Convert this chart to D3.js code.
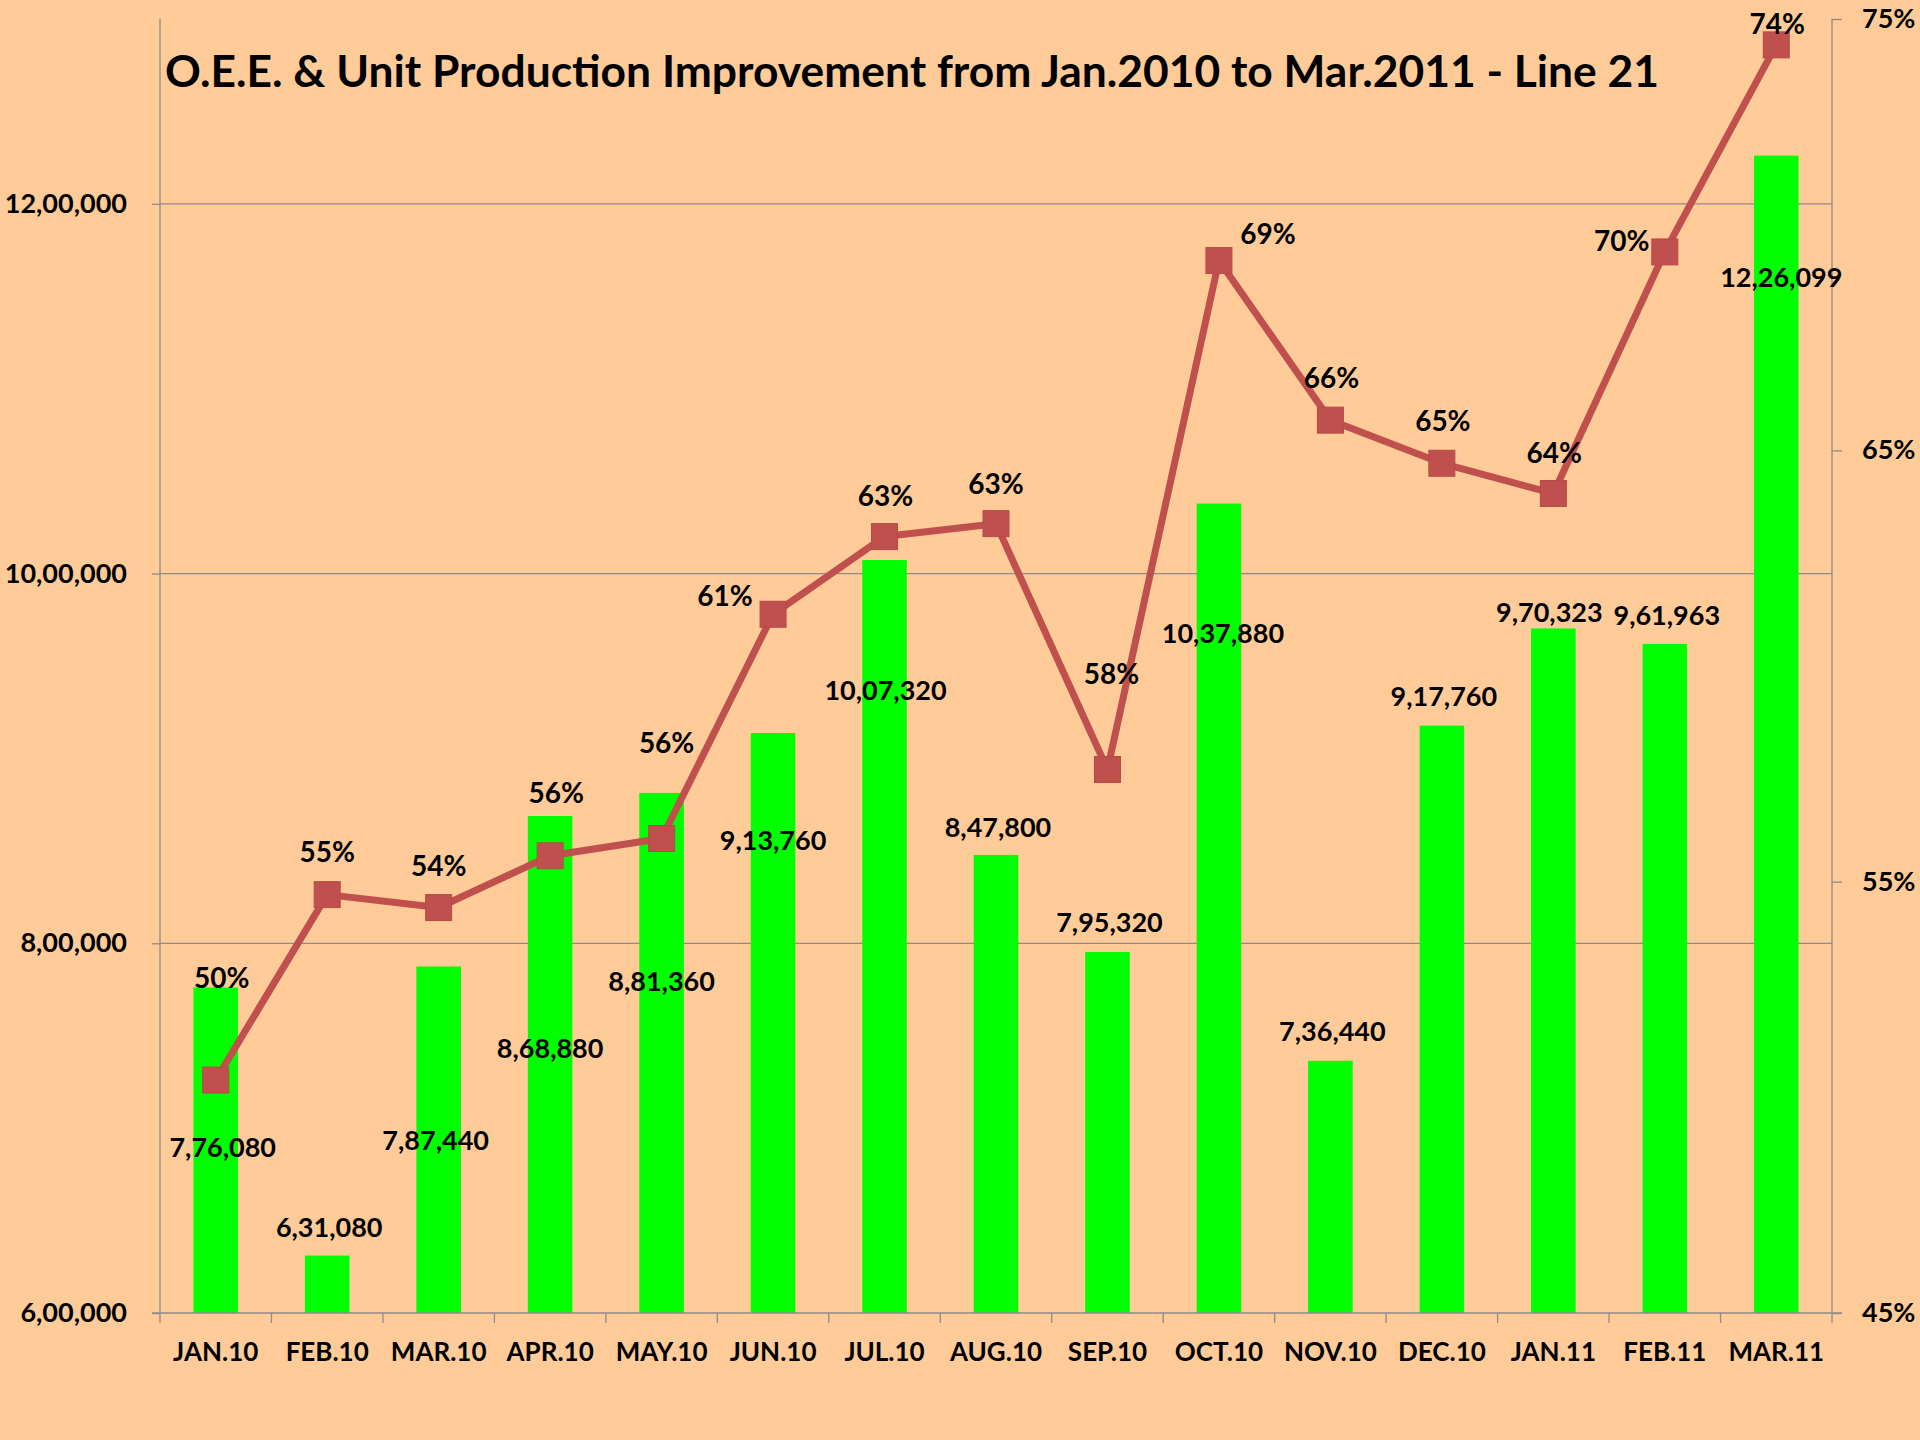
<!DOCTYPE html>
<meta charset="utf-8">
<style>
body {
  margin: 0;
  background: #FFCC99;
}
text {
  font-family: Lato, "Open Sans", sans-serif;
  font-weight: bold;
  fill: #000;
}
</style>
<body>
<script src="https://d3js.org/d3.v7.min.js"></script>
<script>

var width = 1920,
    height = 1440;

// chart data
var months = ["JAN.10", "FEB.10", "MAR.10", "APR.10", "MAY.10", "JUN.10", "JUL.10", "AUG.10",
              "SEP.10", "OCT.10", "NOV.10", "DEC.10", "JAN.11", "FEB.11", "MAR.11"];
var units = [776080, 631080, 787440, 868880, 881360, 913760, 1007320, 847800,
             795320, 1037880, 736440, 917760, 970323, 961963, 1226099];
var oee = [0.504, 0.547, 0.544, 0.556, 0.560, 0.612, 0.630, 0.633,
           0.576, 0.694, 0.657, 0.647, 0.640, 0.696, 0.744];
var unitTicks = [600000, 800000, 1000000, 1200000];
var oeeTicks = [0.45, 0.55, 0.65, 0.75];

// hand placed data labels, [dx, dy] from the bar top / marker
var unitLabelShift = [[7,160],[2,-28],[-3,174],[0,232],[0,188],[0,107],[1,130],[2,-28],
                      [2,-30],[4,130],[2,-30],[2,-29],[-4,-16],[2,-29],[5,122]];
var oeeLabelShift = [[6,-102],[0,-43],[0,-42],[6,-63],[5,-96],[-48,-18],[1,-41],[0,-40],
                     [4,-96],[49,-27],[1,-42],[1,-42],[1,-41],[-43,-11],[1,-21]];

var plotLeft = 160, plotRight = 1832, plotTop = 19, plotBottom = 1313;
var gridColor = "#8c8c8c";

// indian digit grouping, 12,26,099
function indian(n){
  var s = String(Math.round(n));
  if (s.length <= 3) return s;
  var last = s.slice(-3), rest = s.slice(0, -3);
  rest = rest.replace(/\B(?=(\d{2})+(?!\d))/g, ",");
  return rest + "," + last;
}
var pct = d3.format(".0%");

var svg = d3.select("body").append("svg")
    .attr("width", width)
    .attr("height", height)
    .style("display", "block");

svg.append("rect")
  .attr("width", width).attr("height", height)
  .attr("fill", "#FFCC99");

var x = d3.scaleBand()
    .domain(months)
    .range([plotLeft, plotRight])
    .paddingInner(0.6)
    .paddingOuter(0.3);

var y = d3.scaleLinear()
    .domain([600000, 1300000])
    .range([plotBottom, plotTop]);

var y2 = d3.scaleLinear()
    .domain([0.45, 0.75])
    .range([plotBottom, plotTop]);

// gridlines
svg.append("g").selectAll("line")
  .data(unitTicks.slice(1))
  .enter().append("line")
  .attr("x1", plotLeft).attr("x2", plotRight)
  .attr("y1", function(d){ return y(d); })
  .attr("y2", function(d){ return y(d); })
  .attr("stroke", gridColor).attr("stroke-width", 1.3);

// bars
svg.append("g").selectAll("rect")
  .data(units)
  .enter().append("rect")
  .attr("x", function(d, i){ return x(months[i]); })
  .attr("y", function(d){ return y(d); })
  .attr("width", x.bandwidth())
  .attr("height", function(d){ return plotBottom - y(d); })
  .attr("fill", "#00FF00");

// axes
var leftAxis = svg.append("g")
  .attr("transform", "translate(" + plotLeft + ",0)")
  .call(d3.axisLeft(y).tickValues(unitTicks).tickSize(8).tickPadding(25).tickFormat(indian));

var rightAxis = svg.append("g")
  .attr("transform", "translate(" + plotRight + ",0)")
  .call(d3.axisRight(y2).tickValues(oeeTicks).tickSize(10).tickPadding(20).tickFormat(pct));

var bottomAxis = svg.append("g")
  .attr("transform", "translate(0," + plotBottom + ")")
  .call(d3.axisBottom(x).tickSize(0).tickPadding(30));

// ticks between categories
svg.append("g").selectAll("line")
  .data(d3.range(months.length + 1))
  .enter().append("line")
  .attr("x1", function(i){ return plotLeft + i * x.step(); })
  .attr("x2", function(i){ return plotLeft + i * x.step(); })
  .attr("y1", plotBottom).attr("y2", plotBottom + 10)
  .attr("stroke", gridColor).attr("stroke-width", 1.3);

svg.append("line")
  .attr("x1", plotLeft - 8).attr("x2", plotRight + 10)
  .attr("y1", plotBottom).attr("y2", plotBottom)
  .attr("stroke", gridColor).attr("stroke-width", 1.3);

[leftAxis, rightAxis, bottomAxis].forEach(function(g){
  g.selectAll(".domain").attr("stroke", gridColor).attr("stroke-width", 1.3);
  g.selectAll(".tick line").attr("stroke", gridColor).attr("stroke-width", 1.3);
  g.selectAll("text")
    .style("font-family", "Lato, 'Open Sans', sans-serif")
    .style("font-weight", "bold")
    .style("font-size", "26px")
    .attr("fill", "#000");
});
leftAxis.select(".domain").attr("d", "M0," + plotTop + "V" + plotBottom);
rightAxis.select(".domain").attr("d", "M0," + plotTop + "V" + plotBottom);
bottomAxis.select(".domain").remove();
leftAxis.selectAll("text").style("font-size", "27px");
rightAxis.selectAll("text").style("font-size", "27px");

// OEE line
var cx = function(i){ return x(months[i]) + x.bandwidth() / 2; };
var line = d3.line()
  .x(function(d, i){ return cx(i); })
  .y(function(d){ return y2(d); });

svg.append("path")
  .datum(oee)
  .attr("d", line)
  .attr("fill", "none")
  .attr("stroke", "#C0504D")
  .attr("stroke-width", 7)
  .attr("stroke-linejoin", "round");

svg.append("g").selectAll("rect")
  .data(oee)
  .enter().append("rect")
  .attr("x", function(d, i){ return cx(i) - 13; })
  .attr("y", function(d){ return y2(d) - 13; })
  .attr("width", 26).attr("height", 26)
  .attr("fill", "#C0504D")
  .attr("stroke", "#B84A47").attr("stroke-width", 1);

// data labels
svg.append("g").selectAll("text")
  .data(units)
  .enter().append("text")
  .attr("x", function(d, i){ return cx(i) + unitLabelShift[i][0]; })
  .attr("y", function(d, i){ return y(d) + unitLabelShift[i][1]; })
  .attr("dy", "0.36em")
  .attr("text-anchor", "middle")
  .style("font-size", "27px")
  .text(indian);

svg.append("g").selectAll("text")
  .data(oee)
  .enter().append("text")
  .attr("x", function(d, i){ return cx(i) + oeeLabelShift[i][0]; })
  .attr("y", function(d, i){ return y2(d) + oeeLabelShift[i][1]; })
  .attr("dy", "0.36em")
  .attr("text-anchor", "middle")
  .style("font-size", "28px")
  .text(pct);

// title
svg.append("text")
  .attr("x", 165)
  .attr("y", 87)
  .attr("textLength", 1494)
  .attr("lengthAdjust", "spacingAndGlyphs")
  .style("font-size", "43px")
  .text("O.E.E. & Unit Production Improvement from Jan.2010 to Mar.2011 - Line 21");

</script>
